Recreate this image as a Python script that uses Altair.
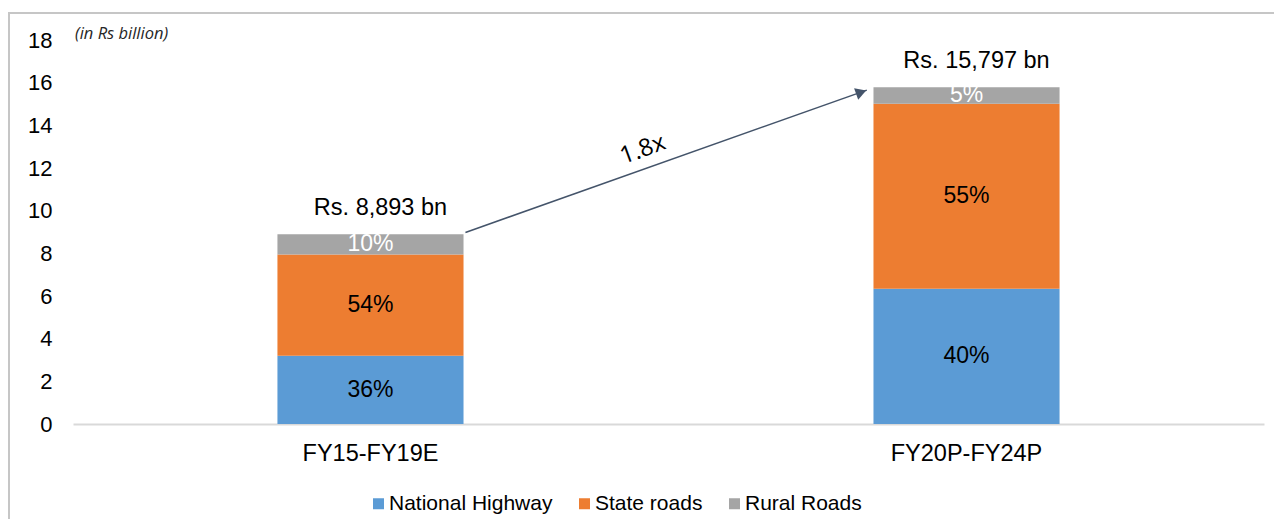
import altair as alt
import pandas as pd

# ---- data ----
periods = ["FY15-FY19E", "FY20P-FY24P"]
segments = ["National Highway", "State roads", "Rural Roads"]
national_highway = [3.20, 6.34]
state_roads = [4.75, 8.67]
rural_roads = [0.94, 0.78]
pct_national = ["36%", "40%"]
pct_state = ["54%", "55%"]
pct_rural = ["10%", "5%"]
total_labels = ["Rs. 8,893 bn", "Rs. 15,797 bn"]
y_ticks = [0, 2, 4, 6, 8, 10, 12, 14, 16, 18]
unit_note = "(in Rs billion)"
growth_label = "1.8x"
# arrow annotation (x in band units: 0..2 across the two categories, y in chart units)
arrow_start = [0.659, 8.98]
arrow_end = [1.333, 15.65]
arrow_head = [1.3235, 15.55]
growth_pos = [0.957, 12.85]

colors = ["#5b9bd5", "#ed7d31", "#a5a5a5"]
text_colors = ["#000000", "#000000", "#ffffff"]

rows = []
for i, p in enumerate(periods):
    vals = [national_highway[i], state_roads[i], rural_roads[i]]
    pcts = [pct_national[i], pct_state[i], pct_rural[i]]
    for j, s in enumerate(segments):
        rows.append({"period": p, "segment": s, "value": vals[j], "order": j,
                     "pct": pcts[j], "tcolor": text_colors[j],
                     "total_label": total_labels[i]})
df = pd.DataFrame(rows)

FONT = "Liberation Sans"

x_enc = alt.X("period:N", sort=periods,
              scale=alt.Scale(paddingInner=0.6878, paddingOuter=0.343),
              axis=alt.Axis(title=None, labelAngle=0, labelFontSize=23.5, labelFont=FONT,
                            labelColor="#000000", ticks=False, domainColor="#d9d9d9",
                            domainWidth=2, labelPadding=17))
y_scale = alt.Scale(domain=[0, 18], nice=False)

bars = alt.Chart(df).mark_bar().encode(
    x=x_enc,
    y=alt.Y("value:Q", scale=y_scale,
            axis=alt.Axis(values=y_ticks, title=None, grid=False, domain=False, ticks=False,
                          labelFontSize=22, labelFont=FONT, labelColor="#000000",
                          labelPadding=21)),
    color=alt.Color("segment:N", scale=alt.Scale(domain=segments, range=colors),
                    legend=alt.Legend(title=None, orient="none", legendX=295, legendY=453,
                                      direction="horizontal", symbolType="square",
                                      symbolSize=121, symbolStrokeWidth=0,
                                      labelFontSize=21, labelFont=FONT, labelColor="#000000",
                                      labelLimit=400, labelOffset=0, columnPadding=21,
                                      padding=0)),
    order=alt.Order("order:Q", sort="ascending"),
)

seg_labels = alt.Chart(df).transform_stack(
    stack="value", as_=["y0", "y1"], groupby=["period"],
    sort=[alt.SortField("order", order="ascending")]
).transform_calculate(
    mid="(datum.y0 + datum.y1) / 2"
).mark_text(fontSize=23, font=FONT, baseline="middle", align="center").encode(
    x=x_enc,
    y=alt.Y("mid:Q", scale=y_scale),
    text="pct:N",
    color=alt.Color("tcolor:N", scale=None),
)

totals = alt.Chart(df).transform_aggregate(
    total="sum(value)", groupby=["period", "total_label"]
).mark_text(fontSize=23.5, font=FONT, baseline="middle", align="center", dx=10, dy=-26,
            color="#000000").encode(
    x=x_enc,
    y=alt.Y("total:Q", scale=y_scale),
    text="total_label:N",
)

main = alt.layer(bars, seg_labels, totals)

# ---- annotations ----
arrow_df = pd.DataFrame({"x": [arrow_start[0]], "y": [arrow_start[1]],
                         "x2": [arrow_end[0]], "y2": [arrow_end[1]]})
head_df = pd.DataFrame({"x": [arrow_head[0]], "y": [arrow_head[1]]})
growth_df = pd.DataFrame({"x": [growth_pos[0]], "y": [growth_pos[1]], "t": [growth_label]})
note_df = pd.DataFrame({"t": [unit_note]})
frame_df = pd.DataFrame({"a": [0]})

xq = alt.Scale(domain=[0, 2], nice=False, zero=False)

arrow = alt.Chart(arrow_df).mark_rule(color="#44546a", strokeWidth=1.5).encode(
    x=alt.X("x:Q", scale=xq, axis=None),
    y=alt.Y("y:Q", scale=y_scale),
    x2="x2:Q", y2="y2:Q",
)
head = alt.Chart(head_df).mark_point(shape="triangle-right", filled=True, size=150,
                                     angle=340.5, color="#44546a", opacity=1).encode(
    x=alt.X("x:Q", scale=xq, axis=None),
    y=alt.Y("y:Q", scale=y_scale),
)
growth = alt.Chart(growth_df).mark_text(font="Open Sans", fontSize=24, angle=340,
                                        align="center", baseline="middle",
                                        color="#000000").encode(
    x=alt.X("x:Q", scale=xq, axis=None),
    y=alt.Y("y:Q", scale=y_scale),
    text="t:N",
)
note = alt.Chart(note_df).mark_text(font="Open Sans", fontSize=16.5, fontStyle="italic",
                                    align="left", baseline="middle",
                                    color="#262626").encode(
    x=alt.value(2), y=alt.value(-6), text="t:N",
)
frame_left = alt.Chart(frame_df).mark_rule(color="#c6c6c6", strokeWidth=2).encode(
    x=alt.value(-64), y=alt.value(-28), y2=alt.value(500),
)
frame_top = alt.Chart(frame_df).mark_rule(color="#c6c6c6", strokeWidth=2).encode(
    x=alt.value(-65), x2=alt.value(1201), y=alt.value(-27),
)

annot = alt.layer(frame_left, frame_top, arrow, head, growth, note)

chart = alt.layer(main, annot).resolve_scale(x="independent").properties(
    width=1191, height=384,
    autosize=alt.AutoSizeParams(type="none"),
    padding={"left": 65, "top": 32, "right": 10, "bottom": 95},
).configure_view(strokeWidth=0)

chart.save("out.html", embed_options={"renderer": "svg", "actions": False})
